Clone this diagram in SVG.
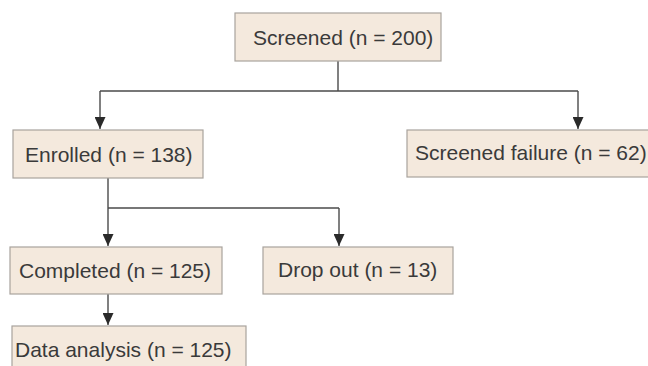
<svg xmlns="http://www.w3.org/2000/svg" width="648" height="366" viewBox="0 0 648 366">
  <defs>
    <marker id="arrow" viewBox="0 0 12 11" refX="12" refY="5.5" markerWidth="12" markerHeight="11" markerUnits="userSpaceOnUse" orient="auto">
      <path d="M0,0 L12,5.5 L0,11 Z" fill="#2a2a2a"/>
    </marker>
  </defs>
  <style>
    .box { fill: #f4e9dd; stroke: #a8a39d; stroke-width: 1.2; }
    .label { font-family: "Liberation Sans", Arial, sans-serif; font-size: 21px; fill: #3a3a3a; }
    .link { fill: none; stroke: #4a4a4a; stroke-width: 1.4; }
  </style>
  <rect width="648" height="366" fill="#ffffff"/>

  <g id="connectors">
    <path class="link" d="M338,61 V91"/>
    <path class="link" d="M100,91 H578"/>
    <path class="link" d="M100,91 V129" marker-end="url(#arrow)"/>
    <path class="link" d="M578,91 V129" marker-end="url(#arrow)"/>
    <path class="link" d="M108,178 V208"/>
    <path class="link" d="M108,208 H339"/>
    <path class="link" d="M108,208 V246" marker-end="url(#arrow)"/>
    <path class="link" d="M339,208 V246" marker-end="url(#arrow)"/>
    <path class="link" d="M108,294 V325" marker-end="url(#arrow)"/>
  </g>

  <g id="screened">
    <rect class="box" x="235" y="13" width="206" height="48"/>
    <text class="label" x="253" y="45">Screened (n = 200)</text>
  </g>
  <g id="enrolled">
    <rect class="box" x="13" y="130" width="190" height="48"/>
    <text class="label" x="25" y="162">Enrolled (n = 138)</text>
  </g>
  <g id="screened-failure">
    <rect class="box" x="407" y="130" width="260" height="47"/>
    <text class="label" x="415" y="160">Screened failure (n = 62)</text>
  </g>
  <g id="completed">
    <rect class="box" x="10" y="247" width="212" height="47"/>
    <text class="label" x="19" y="278">Completed (n = 125)</text>
  </g>
  <g id="drop-out">
    <rect class="box" x="263" y="247" width="190" height="47"/>
    <text class="label" x="278" y="277">Drop out (n = 13)</text>
  </g>
  <g id="data-analysis">
    <rect class="box" x="12" y="326" width="234" height="50"/>
    <text class="label" x="15" y="357">Data analysis (n = 125)</text>
  </g>
</svg>
